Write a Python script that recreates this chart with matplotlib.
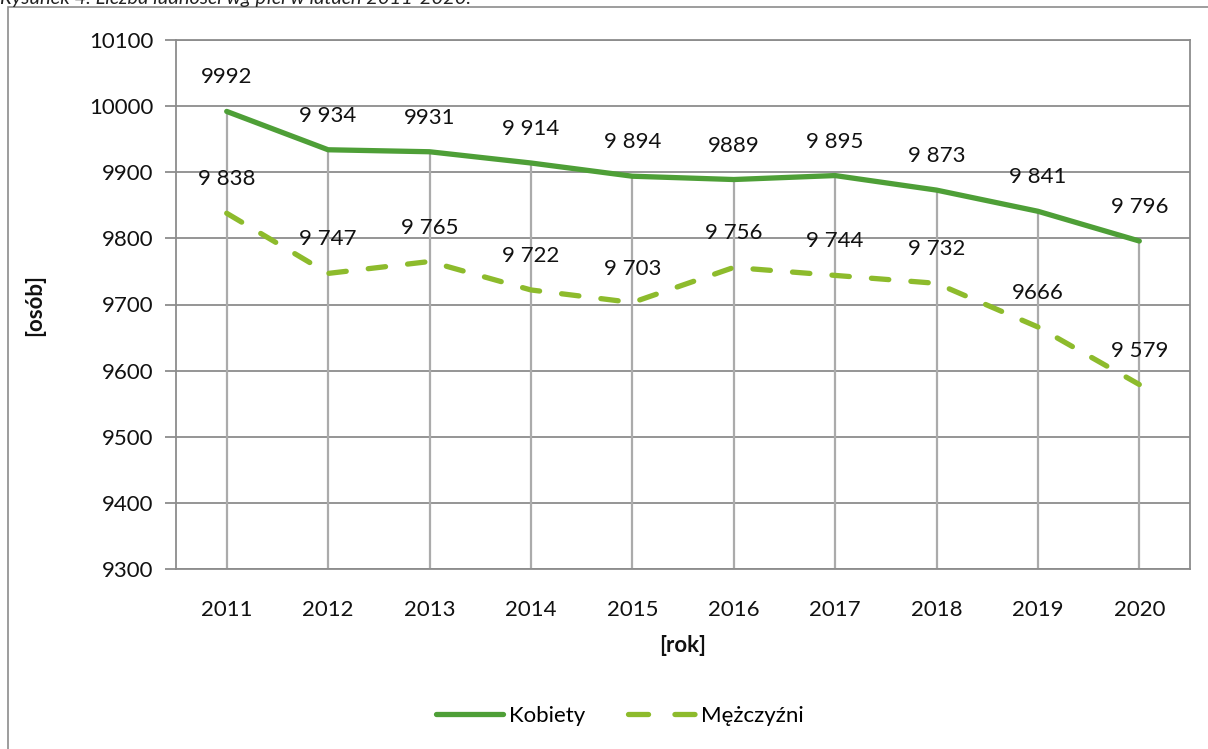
import matplotlib
matplotlib.use("Agg")
import matplotlib.pyplot as plt
from matplotlib.patches import Rectangle
from matplotlib.lines import Line2D
import matplotlib.transforms as mtransforms

plt.rcParams['font.family'] = ['Lato', 'DejaVu Sans']

years = ['2011', '2012', '2013', '2014', '2015', '2016', '2017', '2018', '2019', '2020']
kobiety = [9992, 9934, 9931, 9914, 9894, 9889, 9895, 9873, 9841, 9796]
mezczyzni = [9838, 9747, 9765, 9722, 9703, 9756, 9744, 9732, 9666, 9579]
kobiety_labels = ['9992', '9 934', '9931', '9 914', '9 894', '9889', '9 895', '9 873', '9 841', '9 796']
mezczyzni_labels = ['9 838', '9 747', '9 765', '9 722', '9 703', '9 756', '9 744', '9 732', '9666', '9 579']
yticks = [9300, 9400, 9500, 9600, 9700, 9800, 9900, 10000, 10100]

W, H = 1208, 749
FS = 16
fig = plt.figure(figsize=(W / 100, H / 100), dpi=100)

# outer frame
fig.patches.append(Rectangle((8 / W, -0.05), 1.2, 1 - 7 / H + 0.05, transform=fig.transFigure,
                             fill=False, edgecolor='#8c8c8c', linewidth=1.2))
# caption (cut off at the top, as in the source)
fig.text(0.0, 1 - 4 / H, 'Rysunek 4. Liczba ludności wg płci w latach 2011-2020.',
         fontsize=14.5, style='italic', ha='left', va='baseline', color='#222222')

left, right, top, bottom = 176, 1190, 40, 569
ax = fig.add_axes([left / W, 1 - bottom / H, (right - left) / W, (bottom - top) / H])

x = list(range(len(years)))
c_k = '#4E9F37'
c_m = '#8DBB2C'
grid_c = '#8c8c8c'

ax.set_xlim(-0.5, len(years) - 0.5)
ax.set_ylim(9300, 10100)
ax.set_yticks(yticks)
ax.set_yticklabels([str(v) for v in yticks])
ax.set_xticks(x)
ax.set_xticklabels(years)

for yv in yticks:
    ax.axhline(yv, color=grid_c, linewidth=1.3, zorder=1)
ax.vlines(x, 9300, kobiety, colors='#ababab', linewidth=1.6, zorder=1)

ax.plot(x, kobiety, color=c_k, linewidth=3.8, solid_capstyle='round', solid_joinstyle='round', zorder=3)
ax.plot(x, mezczyzni, color=c_m, linewidth=3.8, dashes=(3.3, 4.2), dash_capstyle='round', zorder=3)

off = mtransforms.offset_copy(ax.transData, fig=fig, x=0, y=34 / 100 * 72, units='points')
for xi, v, lab in zip(x, kobiety, kobiety_labels):
    ax.text(xi, v, lab, transform=off, ha='center', va='center', fontsize=FS, color='#111111', zorder=4)
for xi, v, lab in zip(x, mezczyzni, mezczyzni_labels):
    ax.text(xi, v, lab, transform=off, ha='center', va='center', fontsize=FS, color='#111111', zorder=4)

for s in ax.spines.values():
    s.set_color(grid_c)
    s.set_linewidth(1.3)
ax.tick_params(axis='y', length=8, width=1.3, color=grid_c, labelsize=FS, pad=8, labelcolor='#111111')
ax.tick_params(axis='x', length=0, labelsize=FS, pad=22, labelcolor='#111111')

fig.text(35 / W, 1 - 305 / H, '[osób]', rotation=90, fontsize=FS, fontweight='bold',
         ha='center', va='center', color='#111111')
fig.text(683 / W, 1 - 645 / H, '[rok]', fontsize=FS, fontweight='bold',
         ha='center', va='center', color='#111111')

handles = [Line2D([], [], color=c_k, linewidth=3.8, solid_capstyle='round'),
           Line2D([], [], color=c_m, linewidth=3.8, dashes=(3.8, 5.0), dash_capstyle='round')]
fig.legend(handles, ['Kobiety', 'Mężczyźni'], loc='center', bbox_to_anchor=(620 / W, 1 - 716 / H),
           ncol=2, frameon=False, fontsize=FS, handlelength=3.0, handletextpad=0.3,
           columnspacing=1.9)

fig.savefig('out.png', dpi=100)
